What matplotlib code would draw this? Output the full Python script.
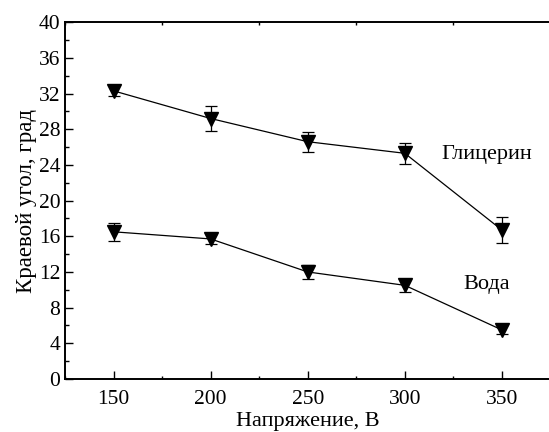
import numpy as np
import matplotlib.pyplot as plt
from matplotlib.ticker import MultipleLocator

plt.rcParams['font.family'] = ['Liberation Serif', 'DejaVu Serif']

# Data
voltage = [150, 200, 250, 300, 350]
glycerin = [32.3, 29.2, 26.6, 25.3, 16.7]
glycerin_err = [0.6, 1.4, 1.1, 1.2, 1.5]
water = [16.5, 15.7, 12.0, 10.5, 5.5]
water_err = [1.0, 0.6, 0.8, 0.7, 0.5]

fig = plt.figure(figsize=(5.49, 4.32), dpi=100)
ax = fig.add_axes([0.1184, 0.1227, 0.886, 0.826])

for y, err in [(glycerin, glycerin_err), (water, water_err)]:
    ax.errorbar(voltage, y, yerr=err, color='black', lw=0.9, marker='v',
                markersize=10, capsize=4, elinewidth=0.9, capthick=0.9)

ax.text(319, 25.2, 'Глицерин', fontsize=16, va='center', ha='left')
ax.text(330, 10.6, 'Вода', fontsize=16, va='center', ha='left')

ax.set_xlim(125, 375.5)
ax.set_ylim(0, 40)
ax.xaxis.set_major_locator(MultipleLocator(50))
ax.xaxis.set_minor_locator(MultipleLocator(25))
ax.yaxis.set_major_locator(MultipleLocator(4))
ax.yaxis.set_minor_locator(MultipleLocator(2))
ax.tick_params(which='both', direction='in', labelsize=15.5, width=1.0)
ax.tick_params(which='major', length=6)
ax.tick_params(which='minor', length=3)
ax.tick_params(axis='x', which='major', pad=8)
ax.tick_params(axis='x', top=True, which='minor', length=2)
for s in ax.spines.values():
    s.set_linewidth(1.4)

ax.set_xlabel('Напряжение, В', fontsize=16, labelpad=2)
ax.set_ylabel('Краевой угол, град', fontsize=16.5, labelpad=1)

fig.savefig('out.png', dpi=100)
